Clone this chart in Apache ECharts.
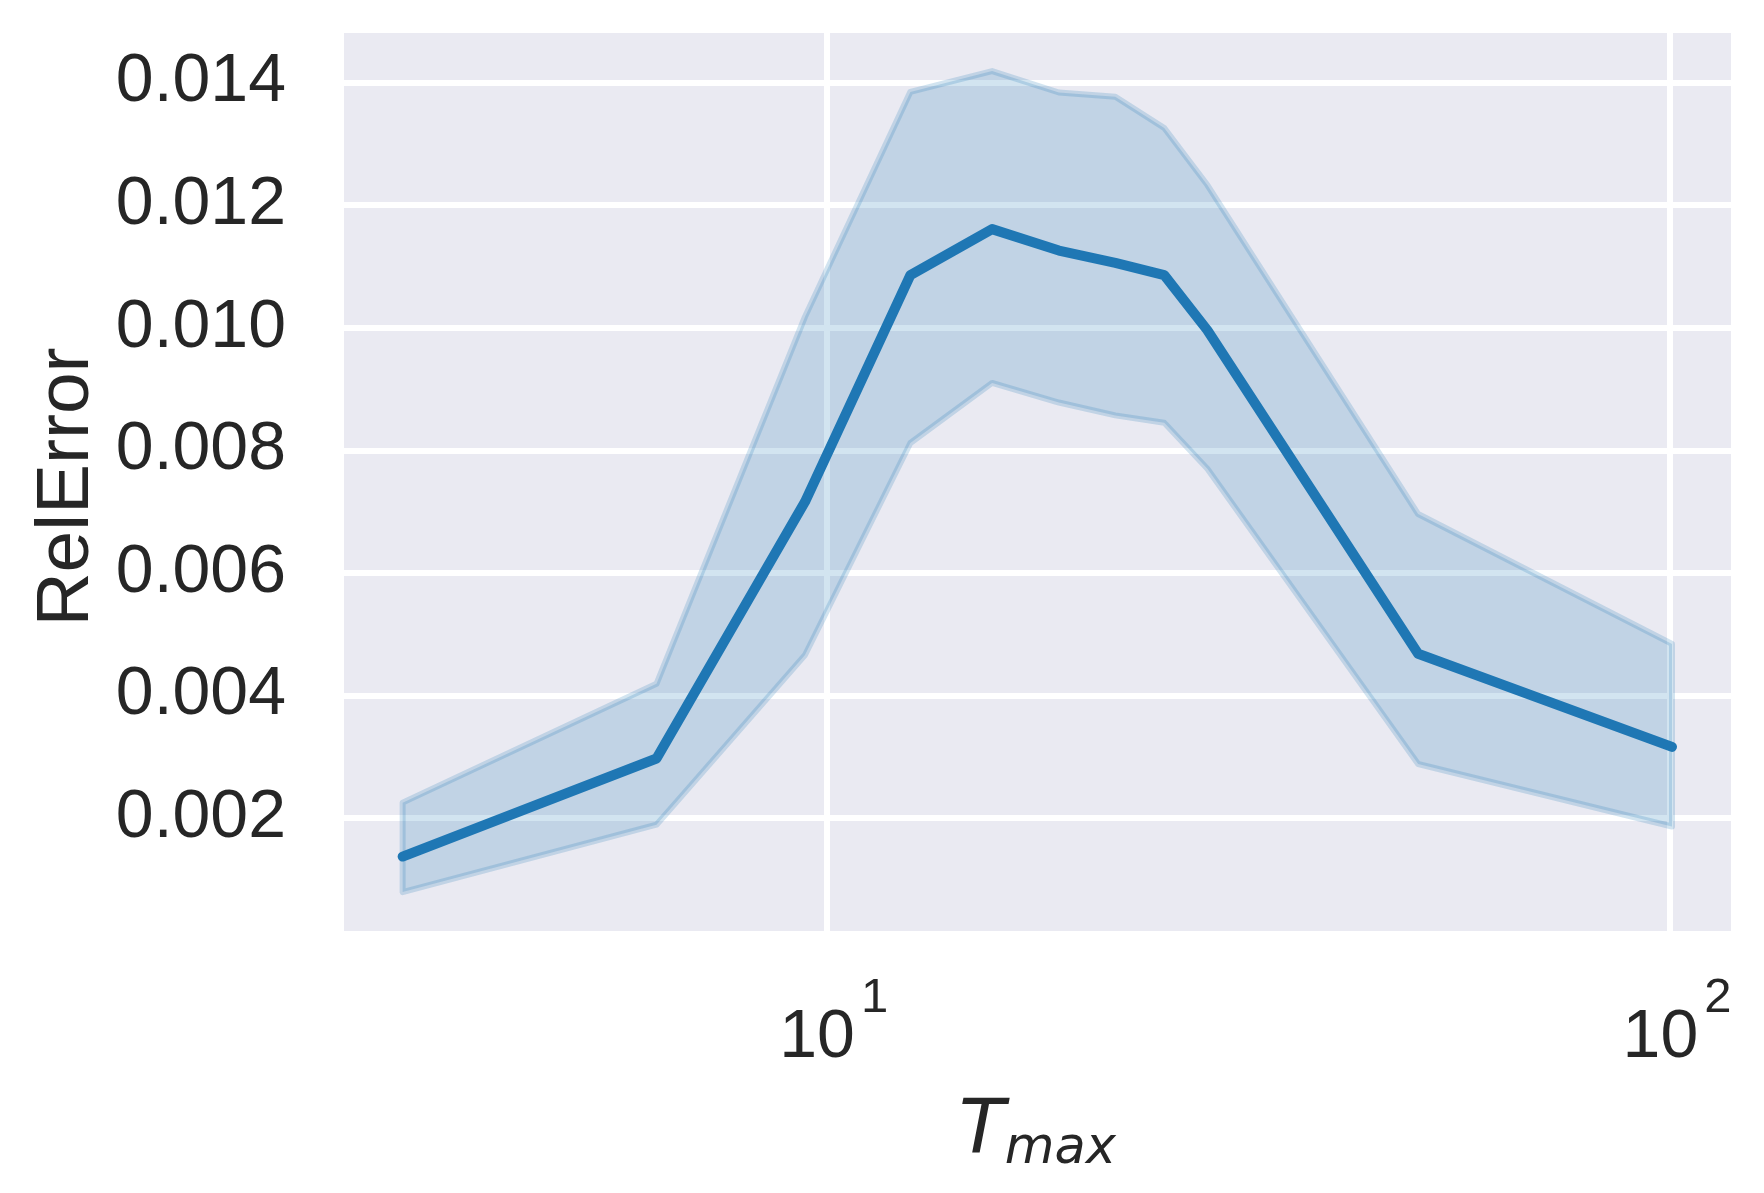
<!DOCTYPE html>
<html>
<head>
<meta charset="utf-8">
<script src="https://cdn.jsdelivr.net/npm/echarts@6/dist/echarts.min.js"></script>
<style>
html,body{margin:0;padding:0;background:#ffffff;}
#chart{width:1764px;height:1193px;}
</style>
</head>
<body>
<div id="chart"></div>
<script>
// ---- data ----
const tmax = [3.1416, 6.2832, 9.4248, 12.566, 15.708, 18.850, 21.991, 25.133, 28.274, 50.265, 100.53];
const relErrMean  = [0.00137, 0.00297, 0.00716, 0.01086, 0.01161, 0.01126, 0.01106, 0.01086, 0.00996, 0.00468, 0.00316];
const relErrUpper = [0.00225, 0.00419, 0.01018, 0.01385, 0.01419, 0.01384, 0.01377, 0.01326, 0.01233, 0.00696, 0.00484];
const relErrLower = [0.00079, 0.00189, 0.00466, 0.00812, 0.00910, 0.00878, 0.00857, 0.00845, 0.00770, 0.00288, 0.00186];
const xTickExponents = [1, 2];
const yTickDecimals = 3;

const TEXT = '#262626';
const FONT = "'Liberation Sans', Arial, sans-serif";
const MATH = "'DejaVu Sans', sans-serif";

const chart = echarts.init(document.getElementById('chart'), null, {renderer: 'canvas'});

const option = {
  animation: false,
  backgroundColor: '#ffffff',
  grid: {
    left: 344, top: 33, width: 1387, height: 898,
    show: true, backgroundColor: '#eaeaf2', borderWidth: 0
  },
  xAxis: {
    type: 'log',
    logBase: 10,
    min: 2.677,
    max: 118.1,
    axisLine: {show: false},
    axisTick: {show: false},
    minorTick: {show: false},
    minorSplitLine: {show: false},
    splitLine: {show: true, showMinLine: false, showMaxLine: false, lineStyle: {color: '#ffffff', width: 6}},
    axisLabel: {
      showMinLabel: false,
      showMaxLabel: false,
      margin: 43,
      formatter: function (v) {
        const l = Math.log10(v);
        const e = Math.round(l);
        if (Math.abs(l - e) > 1e-6 || xTickExponents.indexOf(e) < 0) return '';
        return '{b|10}{s|' + e + '}';
      },
      rich: {
        b: {fontSize: 68, fontFamily: FONT, color: TEXT, verticalAlign: 'top', padding: [30, 0, 0, 14]},
        s: {fontSize: 49, fontFamily: FONT, color: TEXT, verticalAlign: 'top', padding: [0, 0, 0, 6]}
      }
    },
    name: '{t|T}{s|max}',
    nameLocation: 'middle',
    nameGap: 164,
    nameTextStyle: {
      rich: {
        t: {fontSize: 75, fontFamily: MATH, fontStyle: 'italic', color: TEXT, verticalAlign: 'top'},
        s: {fontSize: 51, fontFamily: MATH, fontStyle: 'italic', color: TEXT, verticalAlign: 'top', padding: [29, 0, 0, 0]}
      }
    }
  },
  yAxis: {
    type: 'value',
    min: 0.000155,
    max: 0.014811,
    splitNumber: 7,
    minInterval: 0.002,
    maxInterval: 0.002,
    axisLine: {show: false},
    axisTick: {show: false},
    splitLine: {show: true, showMinLine: false, showMaxLine: false, lineStyle: {color: '#ffffff', width: 6}},
    axisLabel: {
      showMinLabel: false,
      showMaxLabel: false,
      margin: 58,
      fontSize: 68,
      fontFamily: FONT,
      color: TEXT,
      formatter: function (v) { return v.toFixed(yTickDecimals); }
    },
    name: 'RelError',
    nameLocation: 'middle',
    nameGap: 238,
    nameTextStyle: {fontSize: 75, fontFamily: FONT, color: TEXT, padding: [0, 10, 0, 0]}
  },
  series: [
    {
      type: 'custom',
      coordinateSystem: 'cartesian2d',
      silent: true,
      z: 1,
      data: tmax.map(function (x, i) { return [x, relErrLower[i], relErrUpper[i]]; }),
      encode: {x: 0, y: [1, 2]},
      renderItem: function (params, api) {
        if (params.dataIndex !== 0) return null;
        const pts = [];
        for (let i = 0; i < tmax.length; i++) pts.push(api.coord([tmax[i], relErrUpper[i]]));
        for (let i = tmax.length - 1; i >= 0; i--) pts.push(api.coord([tmax[i], relErrLower[i]]));
        return {
          type: 'polygon',
          shape: {points: pts},
          style: {fill: 'rgba(31,119,180,0.2)', stroke: 'rgba(31,119,180,0.2)', lineWidth: 6, lineJoin: 'round'}
        };
      }
    },
    {
      type: 'line',
      z: 2,
      symbol: 'none',
      silent: true,
      data: tmax.map(function (x, i) { return [x, relErrMean[i]]; }),
      lineStyle: {color: '#1f77b4', width: 10, cap: 'round', join: 'round'}
    }
  ]
};
chart.setOption(option);
</script>
</body>
</html>
